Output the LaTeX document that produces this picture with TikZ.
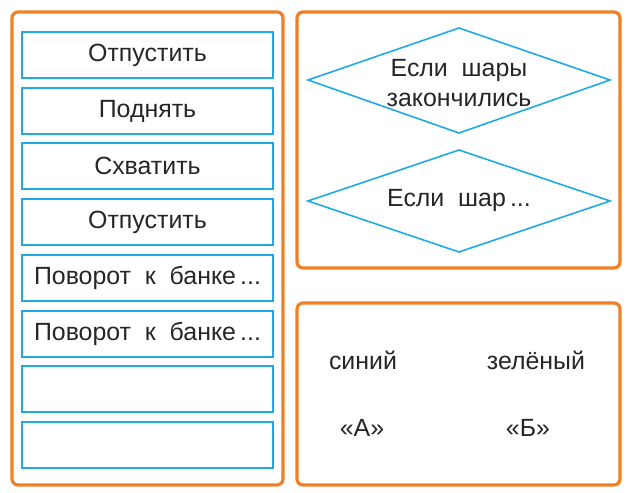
\documentclass[tikz,border=0pt]{standalone}
\usepackage{fontspec}
\setmainfont{Liberation Sans}
\usetikzlibrary{shapes.geometric}
\definecolor{org}{RGB}{238,128,40}
\definecolor{blu}{RGB}{30,170,228}
\begin{document}
\begin{tikzpicture}[x=1bp,y=-1bp,
 panel/.style={draw=org,line width=3.2bp,rounded corners=6bp},
 cmd/.style={draw=blu,line width=1.6bp},
 txt/.style={font=\fontsize{25}{30}\selectfont,text=black!85},
 dia/.style={draw=blu,line width=1.6bp}]
\useasboundingbox (0,0) rectangle (627,493);
\draw[panel] (12,12) rectangle (283,485);
\draw[panel] (297,12) rectangle (620,268);
\draw[panel] (297,303) rectangle (620,485);
\foreach \y/\t [count=\i] in {32/Отпустить,88/Поднять,143/Схватить,199/Отпустить,255/{Поворот\ \ к\ \ банке\,...},311/{Поворот\ \ к\ \ банке\,...},366/{},422/{}}{
 \draw[cmd] (22,\y) rectangle (273,\y+46) node[midway,txt] (c\i) {\t};
}
\draw[dia] (308,80) -- (459,28) -- (610,80) -- (459,133) -- cycle;
\node[txt,align=center] (d1) at (459,83) {Если\ \ шары\\закончились};
\draw[dia] (308,201) -- (459,150) -- (610,201) -- (459,252) -- cycle;
\node[txt] (d2) at (459,201) {Если\ \ шар\,...};
\node[txt] (s) at (363,360) {синий};
\node[txt] (z) at (536,360) {зелёный};
\node[txt] (a) at (362,428) {«А»};
\node[txt] (b) at (528,428) {«Б»};
\end{tikzpicture}
\end{document}
